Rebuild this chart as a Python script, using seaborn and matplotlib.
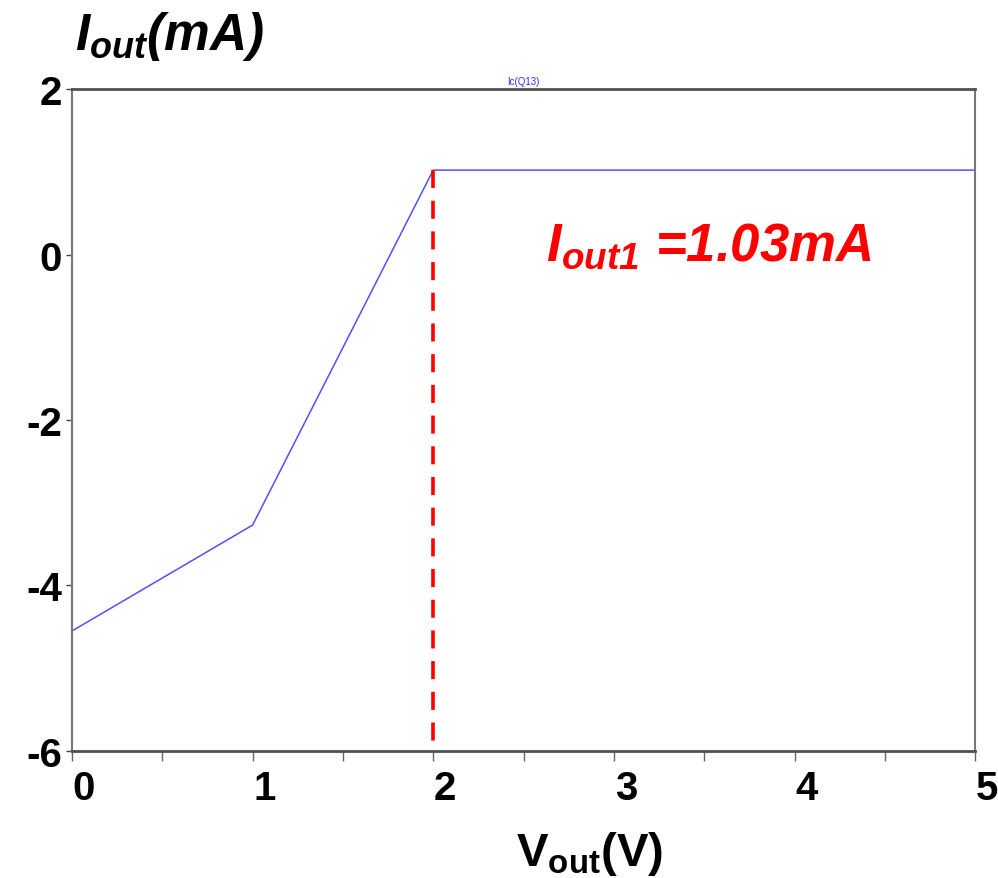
import numpy as np
import pandas as pd
import seaborn as sns
import matplotlib
import matplotlib.pyplot as plt
from matplotlib.transforms import ScaledTranslation

# sweep of Vout (V) and collector current of Q13 (mA)
vout = [0.0, 1.0, 2.0, 5.0]
iout = [-4.55, -3.27, 1.02, 1.02]
v_knee = 2.0
i_knee = 1.02
xticks = [0, 1, 2, 3, 4, 5]
yticks = [2, 0, -2, -4, -6]

sns.set_style("white")
plt.rcParams['font.family'] = ['Liberation Sans', 'DejaVu Sans']
plt.rcParams['font.weight'] = 'bold'
plt.rcParams['text.color'] = 'black'
plt.rcParams['xtick.labelcolor'] = 'black'
plt.rcParams['ytick.labelcolor'] = 'black'
plt.rcParams['mathtext.fontset'] = 'custom'
plt.rcParams['mathtext.rm'] = 'Liberation Sans:bold'
plt.rcParams['mathtext.it'] = 'Liberation Sans:bold:italic'
plt.rcParams['mathtext.bf'] = 'Liberation Sans:bold'
plt.rcParams['mathtext.bfit'] = 'Liberation Sans:bold:italic'

df = pd.DataFrame({'vout': vout, 'iout': iout})

fig = plt.figure(figsize=(9.98, 8.79), dpi=100)
ax = fig.add_axes([0.0721, 0.1445, 0.905, 0.7531])

sns.lineplot(data=df, x='vout', y='iout', ax=ax, color='#5050ff', lw=1.1)
ax.plot([v_knee, v_knee], [i_knee, -6], color='red', lw=2.6, ls=(0, (5, 3.5)))

ax.set_xlim(0, 5)
ax.set_ylim(-6, 2)
ax.set_xlabel('')
ax.set_ylabel('')

xpos = np.arange(0, 5.01, 0.5)
ax.set_xticks(xpos)
ax.set_xticklabels([str(int(t)) if int(t) == t and int(t) in xticks else '' for t in xpos])
ax.set_yticks(yticks)
ax.set_yticklabels([str(t) for t in yticks])
ax.tick_params(axis='x', length=7, width=1, color='#666666', direction='out',
               labelsize=29, pad=6, bottom=True)
ax.tick_params(axis='y', length=4, width=1, color='#444444', direction='out',
               labelsize=29, pad=3, left=True)
for lab in ax.get_xticklabels():
    lab.set_transform(lab.get_transform() + ScaledTranslation(0.12, 0, fig.dpi_scale_trans))

for side in ['top', 'bottom']:
    ax.spines[side].set_color('#505050')
    ax.spines[side].set_linewidth(2)
for side in ['left', 'right']:
    ax.spines[side].set_color('#777777')
    ax.spines[side].set_linewidth(1.5)

ax.text(0.5, 1.005, 'Ic(Q13)', transform=ax.transAxes, ha='center', va='bottom',
        fontsize=7, color='#3030ff', fontweight='normal')
ax.text(0.525, 0.742, r'$\mathbfit{I_{out1}}$ =1.03mA', transform=ax.transAxes, color='red',
        fontsize=38, fontstyle='italic', fontweight='bold', va='baseline')

fig.text(0.075, 1 - 50 / 879, r'$I_{out}$(mA)', fontsize=37, fontstyle='italic',
         fontweight='bold', va='baseline')
fig.text(590 / 998, 1 - 866 / 879, r'$\mathrm{V_{out}}$(V)', fontsize=34,
         fontweight='bold', ha='center', va='baseline')

fig.savefig('out.png', dpi=100)
